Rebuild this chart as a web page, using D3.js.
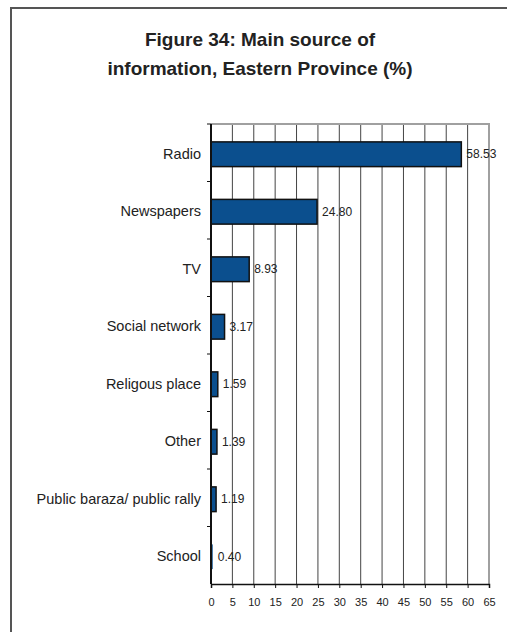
<!DOCTYPE html>
<html lang="en">
<head>
  <meta charset="UTF-8">
  <title>Figure 34: Main source of information, Eastern Province (%)</title>
  <script src="https://d3js.org/d3.v7.min.js"></script>
  <style>
    body { margin: 0; background: #fff; font-family: Arial, "Liberation Sans", sans-serif; }
    svg { display: block; }
  </style>
</head>
<body>
<div id="chart"></div>
<script>
const categories = ["Radio", "Newspapers", "TV", "Social network", "Religous place", "Other", "Public baraza/ public rally", "School"];
const values = [58.53, 24.80, 8.93, 3.17, 1.59, 1.39, 1.19, 0.40];
const xTicks = [0, 5, 10, 15, 20, 25, 30, 35, 40, 45, 50, 55, 60, 65];
const titleLines = ["Figure 34: Main source of", "information, Eastern Province (%)"];

const width = 507;
const height = 632;
const margin = { top: 124, right: 18, bottom: 48, left: 211 };

const svg = d3.select("#chart")
  .append("svg")
  .attr("width", width)
  .attr("height", height);

// outer frame (runs off the right and bottom of the picture)
svg.append("rect")
  .attr("x", 11)
  .attr("y", 8)
  .attr("width", 520)
  .attr("height", 660)
  .attr("fill", "none")
  .attr("stroke", "#555")
  .attr("stroke-width", 2);

svg.selectAll(".title")
  .data(titleLines)
  .enter()
  .append("text")
  .attr("class", "title")
  .attr("x", 260)
  .attr("y", (d, i) => 46 + i * 29)
  .attr("text-anchor", "middle")
  .attr("font-size", "19px")
  .attr("font-weight", "bold")
  .attr("fill", "#222")
  .text(d => d);

const x = d3.scaleLinear()
  .domain([0, 65])
  .range([margin.left, width - margin.right]);

const y = d3.scaleBand()
  .domain(categories)
  .range([margin.top, height - margin.bottom]);

const barH = y.bandwidth() * 0.43;

// vertical gridlines
svg.selectAll(".grid")
  .data(xTicks.filter(t => t > 0 && t < 65))
  .enter()
  .append("line")
  .attr("x1", d => x(d))
  .attr("x2", d => x(d))
  .attr("y1", margin.top)
  .attr("y2", height - margin.bottom)
  .attr("stroke", "#444")
  .attr("stroke-width", 1);

// plot border, top and right
svg.append("path")
  .attr("d", `M${x(0)},${margin.top}H${x(65)}V${height - margin.bottom}`)
  .attr("fill", "none")
  .attr("stroke", "#a0a0a0")
  .attr("stroke-width", 2);

svg.selectAll(".bar")
  .data(values)
  .enter()
  .append("rect")
  .attr("class", "bar")
  .attr("x", x(0))
  .attr("y", (d, i) => y(categories[i]) + (y.bandwidth() - barH) / 2 + 1.5)
  .attr("width", d => x(d) - x(0))
  .attr("height", barH)
  .attr("fill", "#0b4f8e")
  .attr("stroke", "#111")
  .attr("stroke-width", d => d < 1 ? 0 : 1.5);

svg.selectAll(".value")
  .data(values)
  .enter()
  .append("text")
  .attr("class", "value")
  .attr("x", d => x(d) + 5)
  .attr("y", (d, i) => y(categories[i]) + y.bandwidth() / 2 + 1.5)
  .attr("dy", "0.35em")
  .attr("font-size", "12px")
  .attr("fill", "#222")
  .text(d => d.toFixed(2));

// category axis
const yAxis = svg.append("g")
  .attr("transform", `translate(${x(0)},0)`);
yAxis.append("line")
  .attr("y1", margin.top)
  .attr("y2", height - margin.bottom)
  .attr("stroke", "#111")
  .attr("stroke-width", 2);
yAxis.selectAll(".ytick")
  .data(categories)
  .enter()
  .append("line")
  .attr("x1", -4)
  .attr("x2", 0)
  .attr("y1", d => y(d))
  .attr("y2", d => y(d))
  .attr("stroke", "#111");
yAxis.selectAll(".ylabel")
  .data(categories)
  .enter()
  .append("text")
  .attr("x", -10)
  .attr("y", d => y(d) + y.bandwidth() / 2 + 1)
  .attr("dy", "0.35em")
  .attr("text-anchor", "end")
  .attr("font-size", "14.5px")
  .attr("fill", "#222")
  .text(d => d);

// value axis
const xAxis = svg.append("g")
  .attr("transform", `translate(0,${height - margin.bottom})`)
  .call(d3.axisBottom(x).tickValues(xTicks).tickSize(4).tickPadding(10));
xAxis.select(".domain")
  .attr("stroke", "#111")
  .attr("stroke-width", 1.5);
xAxis.selectAll(".tick line").attr("stroke", "#111");
xAxis.selectAll(".tick text")
  .attr("font-size", "11px")
  .attr("font-family", "Arial, 'Liberation Sans', sans-serif")
  .attr("fill", "#222");
</script>
</body>
</html>
